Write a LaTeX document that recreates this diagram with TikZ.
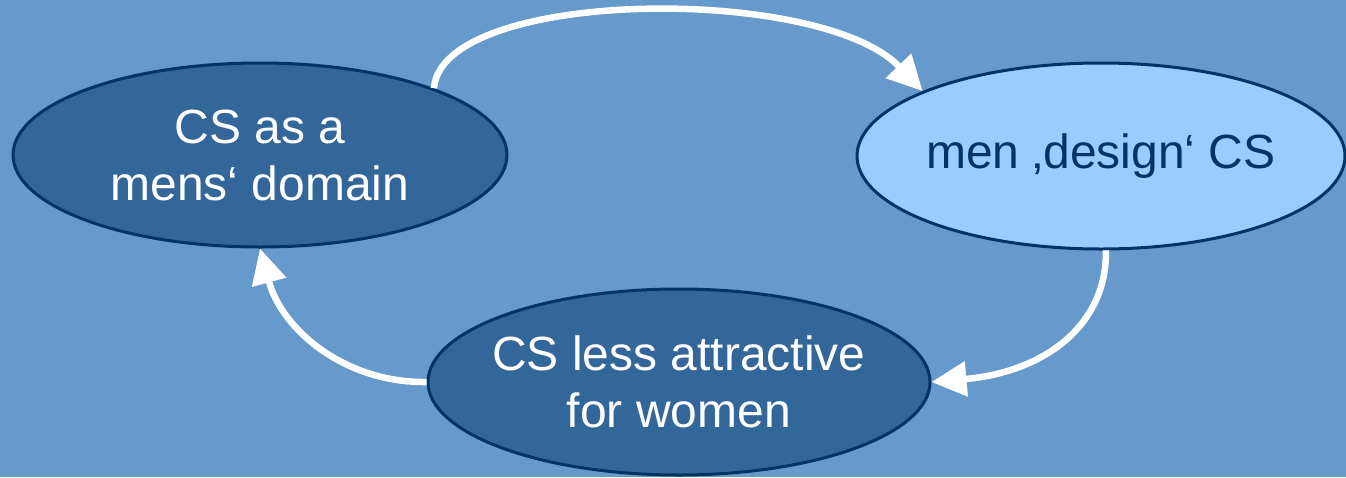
\documentclass[tikz,border=0pt]{standalone}
\usepackage{fontspec}
\setmainfont{Liberation Sans}
\usetikzlibrary{shapes.geometric,arrows.meta}
\definecolor{bg}{HTML}{6699CC}
\definecolor{darkfill}{HTML}{336699}
\definecolor{lightfill}{HTML}{99CCFF}
\definecolor{navy}{HTML}{003366}
\begin{document}
\begin{tikzpicture}[x=1pt,y=-1pt,
  bubble/.style={ellipse,draw=navy,line width=3pt,inner sep=-30pt,align=center,
    font=\fontsize{48}{57}\selectfont},
  darkbubble/.style={bubble,fill=darkfill,text=white},
  lightbubble/.style={bubble,fill=lightfill,text=navy},
  flow/.style={draw=white,line width=6.5pt,-{Triangle[length=35pt,width=34pt]}}]
\fill[bg] (0,0) rectangle (1346,477);
\useasboundingbox (0,0) rectangle (1346,477);
\node[darkbubble,minimum width=494pt,minimum height=184pt] (L) at (260,155) {CS as a\\mens‘ domain};
\node[lightbubble,minimum width=488pt,minimum height=186pt] (R) at (1101,156) {men ‚design‘ CS};
\node[darkbubble,minimum width=502pt,minimum height=186pt] (B) at (679,382) {CS less attractive\\for women};
\draw[flow] (L.21) .. controls (442,-12) and (820,-16) .. (R.160);
\draw[flow] (R.-87) .. controls (1107,325) and (1045,372) .. (B.east);
\draw[flow] (B.west) .. controls (345,383) and (282,330) .. (L.-90);
\end{tikzpicture}
\end{document}
